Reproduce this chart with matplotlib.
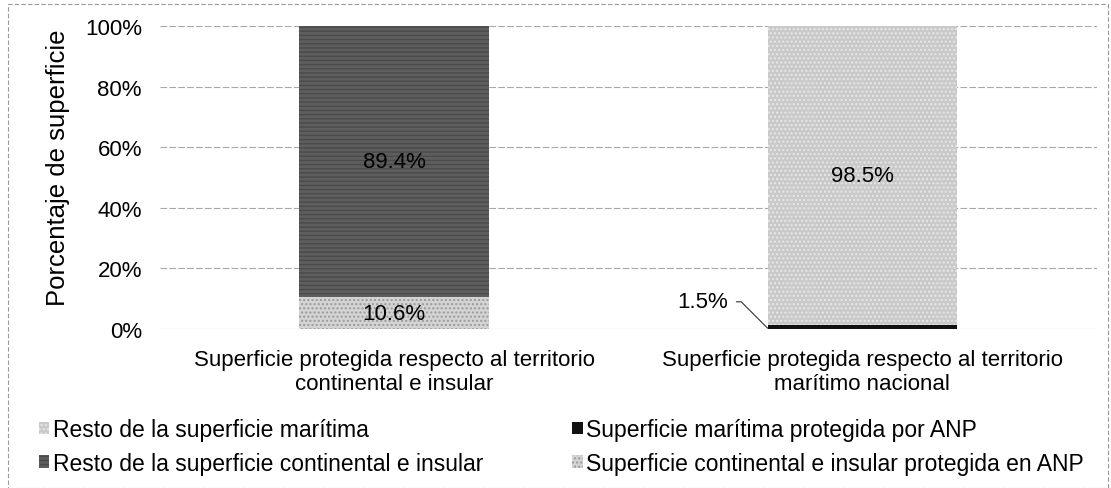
import matplotlib
matplotlib.use('Agg')
import matplotlib.pyplot as plt
from matplotlib.patches import Rectangle

plt.rcParams['font.family'] = ['Liberation Sans', 'DejaVu Sans']

categorias = ['Superficie protegida respecto al territorio\ncontinental e insular',
              'Superficie protegida respecto al territorio\nmarítimo nacional']
protegida = [10.6, 1.5]
resto = [89.4, 98.5]
yticks = [0, 20, 40, 60, 80, 100]

fig = plt.figure(figsize=(11.11, 4.89), dpi=100)
ax = fig.add_axes([0.144, 0.325, 0.843, 0.62])

x = [0, 1]
w = 0.405
# colores de cada segmento (continental / maritimo)
c_prot = ['#d4d4d4', '#111111']
c_resto = ['#5e5e5e', '#c9c9c9']

b_prot = ax.bar(x, protegida, w, color=c_prot, zorder=3)
b_resto = ax.bar(x, resto, w, bottom=protegida, color=c_resto, zorder=3)
b_prot[0].set_hatch('....')
b_prot[0].set_edgecolor('#9a9a9a')
b_prot[0].set_linewidth(0)
b_resto[0].set_hatch('----')
b_resto[0].set_edgecolor('#4a4a4a')
b_resto[0].set_linewidth(0)
b_resto[1].set_hatch('....')
b_resto[1].set_edgecolor('#e8e8e8')
b_resto[1].set_linewidth(0)

ax.text(0, protegida[0] / 2, '%.1f%%' % protegida[0], ha='center', va='center', fontsize=16, zorder=4)
ax.text(0, protegida[0] + resto[0] / 2, '%.1f%%' % resto[0], ha='center', va='center', fontsize=16, zorder=4)
ax.text(1, protegida[1] + resto[1] / 2, '%.1f%%' % resto[1], ha='center', va='center', fontsize=16, zorder=4)
ax.annotate('%.1f%%' % protegida[1], xy=(1 - w / 2, 0.3), xytext=(0.713, 9),
            ha='right', va='center', fontsize=16,
            arrowprops=dict(arrowstyle='-', color='#333333', lw=0.8, shrinkA=4, shrinkB=0,
                            connectionstyle='angle,angleA=0,angleB=-45,rad=0'))

ax.set_xlim(-0.5, 1.5)
ax.set_ylim(0, 100)
ax.set_yticks(yticks)
ax.set_yticklabels(['%d%%' % t for t in yticks], fontsize=16)
ax.set_xticks(x)
ax.set_xticklabels(categorias, fontsize=16, linespacing=1.2)
ax.tick_params(length=0)
ax.tick_params(axis='x', pad=14)
ax.tick_params(axis='y', pad=13)
ax.set_ylabel('Porcentaje de superficie', fontsize=18.5)
ax.yaxis.set_label_coords(-0.096, 0.535)
ax.yaxis.grid(True, color='#a8a8a8', lw=0.8, ls=(0, (6, 2)), zorder=0)
for s in ax.spines.values():
    s.set_visible(False)

# orden de la leyenda: dos columnas
handles = [b_resto[1], b_resto[0], b_prot[1], b_prot[0]]
labels = ['Resto de la superficie marítima',
          'Resto de la superficie continental e insular',
          'Superficie marítima protegida por ANP',
          'Superficie continental e insular protegida en ANP']
fig.legend(handles, labels, ncol=2, loc='upper left', bbox_to_anchor=(0.035, 0.143),
           frameon=False, fontsize=16.5, handlelength=0.45, handleheight=0.45,
           handletextpad=0.15, columnspacing=3.9, labelspacing=0.46,
           borderpad=0, borderaxespad=0)

fig.patches.append(Rectangle((0.007, 0.0), 0.99, 0.99, transform=fig.transFigure,
                             fill=False, ec='#999999', lw=0.8, ls=(0, (4, 2))))

fig.savefig('out.png', dpi=100)
